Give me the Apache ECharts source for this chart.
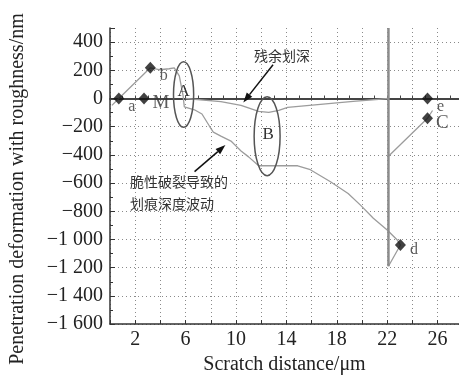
<!DOCTYPE html>
<html>
<head>
<meta charset="utf-8">
<script src="https://cdn.jsdelivr.net/npm/echarts@6/dist/echarts.min.js"></script>
<style>
  html, body { margin: 0; padding: 0; background: #fff; }
  #chart { width: 459px; height: 380px; }
</style>
</head>
<body>
<div id="chart"></div>
<script>
// loading curve with brittle-fracture depth fluctuation
const curveX = [0.15, 0.7, 1.9, 3.2, 3.9, 4.7, 5.1, 5.5, 5.8, 5.9, 6.7, 7.3, 7.9, 8.2, 8.8, 9.6, 10.4, 11.0, 11.8, 14.9, 15.9, 17.5, 18.9, 19.9, 20.9, 22.0, 22.8, 23.05, 22.1];
const curveY = [-49, 0, 105, 218, 204, 211, 217, 160, 20, -60, -80, -110, -197, -239, -267, -302, -372, -414, -477, -477, -505, -590, -674, -758, -849, -933, -1004, -1039, -1190];

// residual scratch depth
const residualX = [6.0, 8.8, 10.4, 11.8, 12.6, 13.4, 14.1, 16.7, 19.3, 22.1];
const residualY = [0, -22, -49, -91, -98, -84, -63, -42, -21, 0];

// unloading segment on the right
const rightX = [22.1, 25.2, 25.6];
const rightY = [-410, -140, -85];

// vertical line at end of scratch
const vertX = [22.1, 22.1];
const vertY = [-1190, 500];

// labelled points
const markerNames = ['a', 'M', 'b', 'e', 'C', 'd'];
const markerX = [0.7, 2.7, 3.2, 25.2, 25.2, 23.05];
const markerY = [0, 0, 218, 0, -140, -1039];

const xLabelValues = [2, 6, 10, 14, 18, 22, 26];

const serif = 'Liberation Serif';

function pairs(xs, ys) {
    return xs.map((x, i) => [x, ys[i]]);
}

function yFmt(v) {
    if (v > 400) return '';
    let s = String(Math.abs(v));
    if (s.length > 3) s = s.slice(0, s.length - 3) + ' ' + s.slice(-3);
    return (v < 0 ? '\u2212' : '') + s;
}

let chart = echarts.init(document.getElementById('chart'));

const grayLine = { color: '#9c9c9c', width: 1.3 };

let option = {
    animation: false,
    grid: { left: 108, right: 0, top: 28, bottom: 53 },
    xAxis: [{
        type: 'value',
        min: 0, max: 27.7, interval: 2,
        name: 'Scratch distance/\u03bcm',
        nameLocation: 'middle',
        nameGap: 28,
        nameTextStyle: { fontFamily: serif, fontSize: 20, color: '#222' },
        axisLine: { onZero: false, lineStyle: { color: '#333', width: 1.5 } },
        axisTick: { inside: true, length: 4, lineStyle: { color: '#333' } },
        axisLabel: {
            margin: 6,
            showMaxLabel: false,
            fontFamily: serif, fontSize: 20, color: '#222',
            formatter: v => xLabelValues.includes(v) ? String(v) : ''
        },
        splitLine: {
            show: true,
            showMaxLine: false,
            lineStyle: { color: '#8a8a8a', type: [1, 3], width: 1 }
        }
    }, {
        type: 'value',
        min: 0, max: 27.7, interval: 1,
        position: 'top',
        axisLine: { onZero: true, lineStyle: { color: '#444', width: 2 } },
        axisTick: { show: true, length: 3, lineStyle: { color: '#444' } },
        axisLabel: { show: false },
        splitLine: { show: false }
    }],
    yAxis: {
        type: 'value',
        min: -1600, max: 500, interval: 200,
        name: 'Penetration deformation with roughness/nm',
        nameLocation: 'middle',
        nameGap: 82,
        nameTextStyle: { fontFamily: serif, fontSize: 20, color: '#222', padding: [0, 26, 0, 0] },
        axisLine: { show: true, lineStyle: { color: '#333', width: 1.5 } },
        axisTick: { inside: true, length: 5, lineStyle: { color: '#333' } },
        minorTick: { show: true, splitNumber: 2, length: 3, lineStyle: { color: '#333' } },
        axisLabel: {
            margin: 7,
            showMaxLabel: false,
            fontFamily: serif, fontSize: 20, color: '#222',
            formatter: yFmt
        },
        splitLine: {
            show: true,
            showMaxLine: false,
            lineStyle: { color: '#8a8a8a', type: [1, 3], width: 1 }
        }
    },
    series: [
        {
            type: 'line', data: pairs(curveX, curveY),
            showSymbol: false, lineStyle: grayLine, z: 3
        },
        {
            type: 'line', data: pairs(residualX, residualY),
            showSymbol: false, lineStyle: grayLine, z: 3
        },
        {
            type: 'line', data: pairs(rightX, rightY),
            showSymbol: false, lineStyle: grayLine, z: 3
        },
        {
            type: 'line', data: pairs(vertX, vertY),
            showSymbol: false, lineStyle: { color: '#8c8c8c', width: 2.5 }, z: 3
        },
        {
            type: 'scatter',
            symbol: 'diamond', symbolSize: [11, 12],
            itemStyle: { color: '#111' },
            z: 5,
            data: markerNames.map((n, i) => ({
                value: [markerX[i], markerY[i]],
                label: {
                    show: true,
                    formatter: n,
                    position: 'right',
                    distance: (n === 'M' || n === 'C') ? 3 : 4,
                    offset: [0, (n === 'C' || n === 'd' || n === 'M') ? 5 : 8],
                    fontFamily: serif,
                    fontSize: (n === 'M' || n === 'C') ? 19 : 16,
                    color: '#333'
                }
            }))
        }
    ]
};

chart.setOption(option);

// annotations, anchored in data space
const ellipses = [
    { label: 'A', cx: 5.84, cy: 28, hx: 0.8, hy: 232, lx: 5.84, ly: 50 },
    { label: 'B', cx: 12.47, cy: -267, hx: 1.03, hy: 280, lx: 12.55, ly: -255 }
];
const arrows = [
    { from: [12.94, 239], to: [10.58, -28] },
    { from: [6.71, -519], to: [9.16, -330] }
];
const notes = [
    { text: '残余划深', x: 13.65, y: 302, align: 'center' },
    { text: '脆性破裂导致的\n划痕深度波动', x: 1.58, y: -590, align: 'left' }
];

const toPx = (x, y) => chart.convertToPixel({ xAxisIndex: 0, yAxisIndex: 0 }, [x, y]);

let graphics = [];
ellipses.forEach(e => {
    const c = toPx(e.cx, e.cy);
    const edge = toPx(e.cx + e.hx, e.cy + e.hy);
    graphics.push({
        type: 'ellipse',
        shape: { cx: c[0], cy: c[1], rx: Math.abs(edge[0] - c[0]), ry: Math.abs(edge[1] - c[1]) },
        style: { fill: null, stroke: '#555', lineWidth: 1.5 },
        z: 10
    });
    const l = toPx(e.lx, e.ly);
    graphics.push({
        type: 'text', x: l[0], y: l[1],
        style: { text: e.label, fontFamily: serif, fontSize: 17, fill: '#333', align: 'center', verticalAlign: 'middle' },
        z: 10
    });
});
arrows.forEach(a => {
    const p0 = toPx(a.from[0], a.from[1]);
    const p1 = toPx(a.to[0], a.to[1]);
    const dx = p1[0] - p0[0], dy = p1[1] - p0[1];
    const len = Math.sqrt(dx * dx + dy * dy);
    const ux = dx / len, uy = dy / len;
    const hl = 10, hw = 3.5;
    const bx = p1[0] - ux * hl, by = p1[1] - uy * hl;
    graphics.push({
        type: 'line',
        shape: { x1: p0[0], y1: p0[1], x2: bx, y2: by },
        style: { stroke: '#111', lineWidth: 1.5 },
        z: 10
    });
    graphics.push({
        type: 'polygon',
        shape: { points: [[p1[0], p1[1]], [bx - uy * hw, by + ux * hw], [bx + uy * hw, by - ux * hw]] },
        style: { fill: '#111' },
        z: 10
    });
});
notes.forEach(n => {
    const p = toPx(n.x, n.y);
    graphics.push({
        type: 'text', x: p[0], y: n.align === 'left' ? p[1] - 11 : p[1],
        style: {
            text: n.text, fontFamily: 'Noto Sans CJK SC', fontSize: 14, lineHeight: 22,
            fill: '#333', align: n.align, verticalAlign: n.align === 'left' ? 'top' : 'middle'
        },
        z: 10
    });
});

chart.setOption({ graphic: graphics });
</script>
</body>
</html>
